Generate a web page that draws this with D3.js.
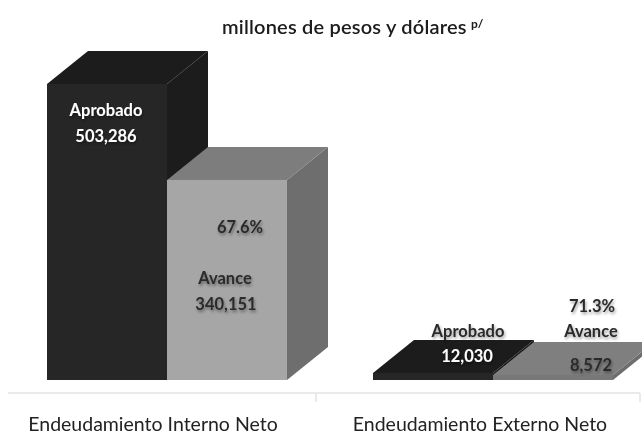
<!DOCTYPE html>
<html><head><meta charset="utf-8">
<script src="https://cdn.jsdelivr.net/npm/d3@7"></script>
<style>html,body{margin:0;padding:0;background:#fff}svg{display:block}text{font-family:Lato,"Open Sans",sans-serif}</style>
</head><body><svg id="c" width="642" height="434"></svg>
<script>
const categories = ["Endeudamiento Interno Neto", "Endeudamiento Externo Neto"];
const series = ["Aprobado", "Avance"];
const aprobado = [503286, 12030];
const avance = [340151, 8572];
const percent = ["67.6%", "71.3%"];
const title = "millones de pesos y dólares";
const titleSup = "p/";

const svg = d3.select("#c");
const defs = svg.append("defs");
defs.append("filter").attr("id","soft").append("feGaussianBlur").attr("stdDeviation",0.45);
const sh = defs.append("filter").attr("id","shadow").attr("x","-20%").attr("y","-30%").attr("width","140%").attr("height","170%");
sh.append("feGaussianBlur").attr("in","SourceAlpha").attr("stdDeviation",1.6).attr("result","b");
sh.append("feOffset").attr("in","b").attr("dx",1).attr("dy",1.5).attr("result","o");
sh.append("feComponentTransfer").attr("in","o").attr("result","o2").append("feFuncA").attr("type","linear").attr("slope",0.4);
sh.append("feGaussianBlur").attr("in","SourceGraphic").attr("stdDeviation",0.35).attr("result","s");
const m = sh.append("feMerge"); m.append("feMergeNode").attr("in","o2"); m.append("feMergeNode").attr("in","s");

const axisY = 393, axisTick = 316, depthX = 41, depthY = 33;
const groupLeft = d3.scaleOrdinal().domain(categories).range([47, 373]);
const x1 = d3.scaleBand().domain(series).range([0, 240]);
const y = d3.scaleLinear().domain([0, 503286]).range([380, 84]);

const palette = [
  {front:"#262626", top:"#1e1e1e", side:"#1a1a1a"},
  {front:"#a6a6a6", top:"#7d7d7d", side:"#6e6e6e"},
  {front:"#262626", top:"#1e1e1e", side:"#1a1a1a"},
  {front:"#787878", top:"#7f7f7f", side:"#6e6e6e"}
];
const art = svg.append("g").attr("filter","url(#soft)");

// axis
const axis = art.append("g").attr("stroke","#e3e3e3").attr("stroke-width",1.5).attr("fill","none");
axis.append("line").attr("x1",8).attr("x2",640).attr("y1",axisY).attr("y2",axisY);
[axisTick, 640].forEach(px => {
  axis.append("line").attr("x1",px).attr("x2",px).attr("y1",axisY).attr("y2",axisY+9);
});

// bars: dark one first, the grey one covers its side face
categories.forEach((c, ci) => {
  [aprobado, avance].forEach((vals, si) => {
    const p = palette[ci * 2 + si];
    const xl = groupLeft(c) + x1(series[si]), w = x1.bandwidth();
    const yt = y(vals[ci]), yb = y(0);
    const poly = pts => art.append("polygon").attr("points", pts.map(q=>q.join(",")).join(" "));
    poly([[xl+w,yt],[xl+w+depthX,yt-depthY],[xl+w+depthX,yb-depthY],[xl+w,yb]]).attr("fill",p.side);
    poly([[xl,yt],[xl+depthX,yt-depthY],[xl+w+depthX,yt-depthY],[xl+w,yt]]).attr("fill",p.top);
    art.append("rect").attr("x",xl).attr("y",yt).attr("width",w).attr("height",yb-yt).attr("fill",p.front);
  });
});

// text
const fmt = d3.format(",");
function label(str, px, py, opt={}) {
  return svg.append("text").text(str).attr("x",px).attr("y",py)
    .attr("text-anchor",opt.anchor||"middle")
    .attr("font-size",opt.size||16.5).attr("font-weight",opt.weight||700)
    .attr("fill",opt.fill||"#2b2b2b")
    .attr("filter",opt.shadow===false?"url(#soft)":"url(#shadow)");
}
label(title, 222, 34, {anchor:"start", size:20, weight:600, fill:"#1a1a1a", shadow:false}).attr("letter-spacing",0.2);
label(titleSup, 471, 28, {anchor:"start", size:12, weight:700, fill:"#1a1a1a", shadow:false});

label(series[0], 106, 116, {fill:"#fff"});
label(fmt(aprobado[0]), 106, 142, {fill:"#fff"});
label(percent[0], 240, 233);
label(series[1], 225, 284);
label(fmt(avance[0]), 226, 310);

label(series[0], 468, 337);
label(fmt(aprobado[1]), 467, 362, {fill:"#fff"});
label(percent[1], 592, 312);
label(series[1], 591, 337);
label(fmt(avance[1]), 591, 371);

label(categories[0], 153, 431, {size:19.5, weight:400, fill:"#222", shadow:false});
label(categories[1], 480, 431, {size:19.5, weight:400, fill:"#222", shadow:false});
</script></body></html>
